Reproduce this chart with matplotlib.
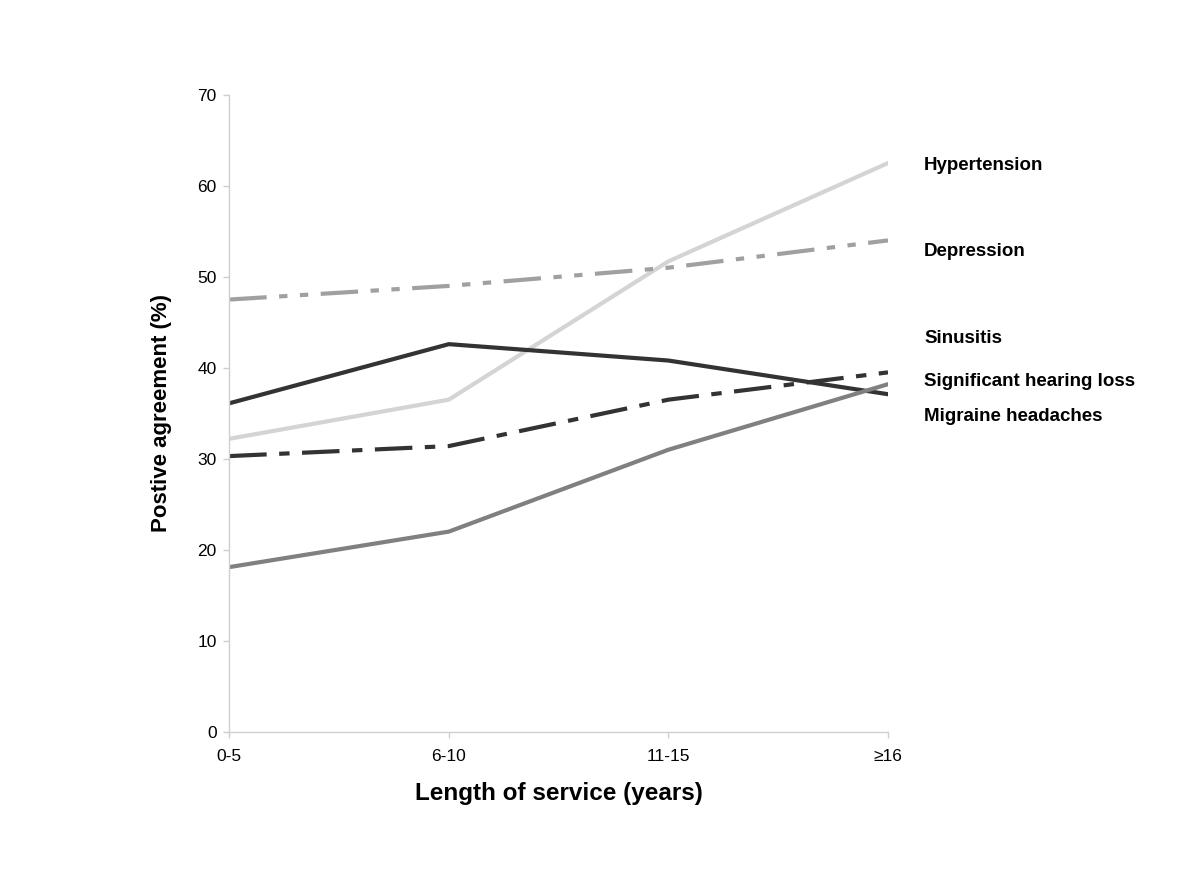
import numpy as np
import matplotlib
matplotlib.use("Agg")
from matplotlib import pyplot as plt

plt.rcParams['font.family'] = ['Liberation Sans', 'DejaVu Sans']

# dati
categorie = ["0-5", "6-10", "11-15", "≥16"]
hypertension = [32.2, 36.5, 51.7, 62.5]
depression = [47.5, 49.0, 51.0, 54.0]
sinusitis = [36.1, 42.6, 40.8, 37.1]
hearing_loss = [30.3, 31.4, 36.5, 39.5]
migraine = [18.1, 22.0, 31.0, 38.2]

nomi = ["Hypertension", "Depression", "Sinusitis",
        "Significant hearing loss", "Migraine headaches"]

x = np.arange(len(categorie))

f1 = plt.figure(figsize=(12, 8.86), dpi=100)
ax1 = f1.add_axes([0.191, 0.174, 0.549, 0.719])

lw = 3.0
ax1.plot(x, hypertension, color="#d4d4d4", linewidth=lw)
ax1.plot(x, depression, color="#a0a0a0", linewidth=lw,
         dashes=(9, 3, 2, 3, 2, 3))
ax1.plot(x, sinusitis, color="#333333", linewidth=lw)
ax1.plot(x, hearing_loss, color="#333333", linewidth=lw,
         dashes=(9, 3, 2.5, 3))
ax1.plot(x, migraine, color="#808080", linewidth=lw)

# etichette delle serie a destra
label_y = [62.2, 52.8, 43.2, 38.5, 34.6]
for nome, yy in zip(nomi, label_y):
    ax1.text(1.055, yy, nome, transform=ax1.get_yaxis_transform(),
             fontsize=13.5, fontweight='bold', va='center', ha='left')

ax1.set_xlim(0, 3)
ax1.set_ylim(0, 70)
ax1.set_xticks(x)
ax1.set_xticklabels(categorie)
ax1.set_yticks(np.arange(0, 71, 10))

for s in ("top", "right"):
    ax1.spines[s].set_visible(False)
for s in ("left", "bottom"):
    ax1.spines[s].set_color("#cfcfcf")
    ax1.spines[s].set_linewidth(1.0)
ax1.tick_params(axis='both', colors="#cfcfcf", labelcolor="black",
                labelsize=12.5, length=4, width=1.0)
ax1.tick_params(axis='x', pad=8)
ax1.tick_params(axis='y', pad=5)

ax1.set_xlabel("Length of service (years)", fontsize=17.5, fontweight='bold',
               labelpad=13)
ax1.set_ylabel("Postive agreement (%)", fontsize=16, fontweight='bold',
               labelpad=18)

f1.savefig("out.png", dpi=100)
